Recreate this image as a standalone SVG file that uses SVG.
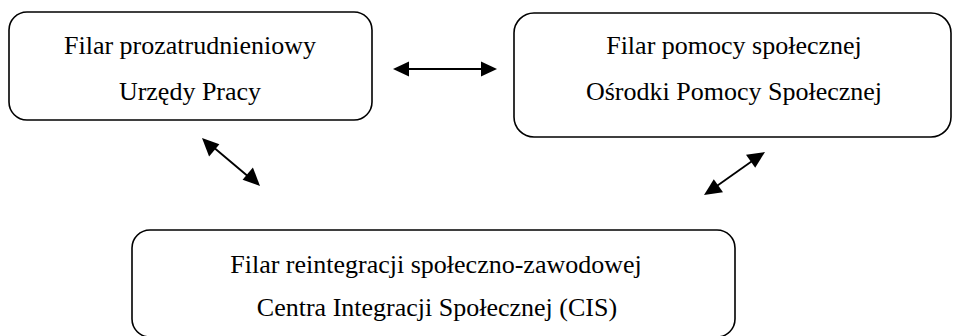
<svg xmlns="http://www.w3.org/2000/svg" width="954" height="336" viewBox="0 0 954 336">
<style>
.box{fill:#fff;stroke:#000;stroke-width:1.6}
.t{font-family:"Liberation Serif","Times New Roman",serif;font-size:26px;fill:#000;text-anchor:middle}
.c{stroke:#000;stroke-width:1.8;fill:none}
.h{fill:#000}
</style>
<g id="node-urzedy">
<rect class="box" x="9" y="12" width="363" height="108" rx="18"/>
<text class="t" x="190" y="54">Filar prozatrudnieniowy</text>
<text class="t" x="190" y="100">Urzędy Pracy</text>
</g>
<g id="node-ops">
<rect class="box" x="514" y="13" width="437" height="124" rx="20"/>
<text class="t" x="734" y="54">Filar pomocy społecznej</text>
<text class="t" x="734" y="100">Ośrodki Pomocy Społecznej</text>
</g>
<g id="node-cis">
<rect class="box" x="132" y="230" width="603" height="107" rx="18"/>
<text class="t" x="436" y="273">Filar reintegracji społeczno-zawodowej</text>
<text class="t" x="437" y="316">Centra Integracji Społecznej (CIS)</text>
</g>
<g id="connectors">
<line class="c" x1="405" y1="69" x2="485" y2="69"/>
<polygon class="h" points="393,69 409,61.5 409,76.5"/>
<polygon class="h" points="497,69 481,61.5 481,76.5"/>
<line class="c" x1="212" y1="146" x2="250" y2="178"/>
<polygon class="h" points="202,138 219.4,144.3 209.1,156.6"/>
<polygon class="h" points="260,186 242.6,179.7 252.9,167.4"/>
<line class="c" x1="755" y1="159" x2="714" y2="188"/>
<polygon class="h" points="765,152 755.2,167.7 746.0,154.7"/>
<polygon class="h" points="704,195 713.8,179.3 723.0,192.3"/>
</g>
</svg>
